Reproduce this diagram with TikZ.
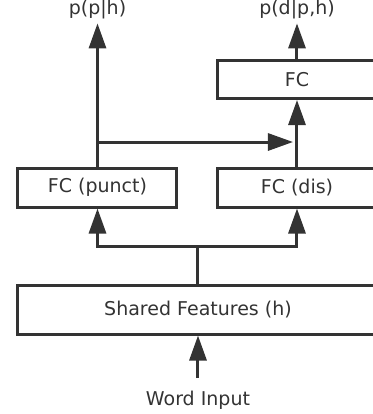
\documentclass[tikz,border=0pt]{standalone}
\usepackage{fontspec}
\setmainfont{DejaVu Sans}
\usepackage{xcolor}
\usepackage{tikz}
\usetikzlibrary{arrows.meta,positioning}
\definecolor{ink}{HTML}{333333}

\begin{document}
\begin{tikzpicture}[
  x=0.5pt,y=-0.5pt,
  font=\fontsize{9.5}{11}\selectfont,
  box/.style={draw=ink,text=ink,line width=1.5pt,inner sep=0pt,minimum width=79.5pt,minimum height=19.5pt},
  outlabel/.style={text=ink,inner sep=2pt,anchor=base},
  flow/.style={-{Triangle[length=12.5pt,width=8.5pt]},draw=ink,line width=1.5pt},
  wire/.style={draw=ink,line width=1.5pt},
]
\useasboundingbox (0,0) rectangle (373,414);
\node[box,minimum width=180pt,minimum height=24.5pt] (shared) at (198,309.5) {Shared Features (h)};
\node[box] (punct) at (97.5,187.5) {FC (punct)};
\node[box] (dis) at (297,187.5) {FC (dis)};
\node[box,minimum height=19pt] (fc) at (297,79.5) {FC};
\node[outlabel] (pph) at (97.5,14.5) {p(p|h)};
\node[outlabel] (pdph) at (297,14.5) {p(d|p,h)};
\node[outlabel,inner sep=6pt] (word) at (198,405) {Word Input};
\coordinate (fork) at (198,246);
\coordinate (split) at (97.5,142);

\draw[flow] (word) -- (shared);
\draw[wire] (shared) -- (fork);
\draw[flow] (fork) -| (punct);
\draw[flow] (fork) -| (dis);
\draw[flow] (punct) -- (pph);
\draw[flow,shorten >=2pt] (split) -- (split -| dis.north);
\draw[flow] (dis) -- (fc);
\draw[flow] (fc) -- (pdph);
\end{tikzpicture}
\end{document}
